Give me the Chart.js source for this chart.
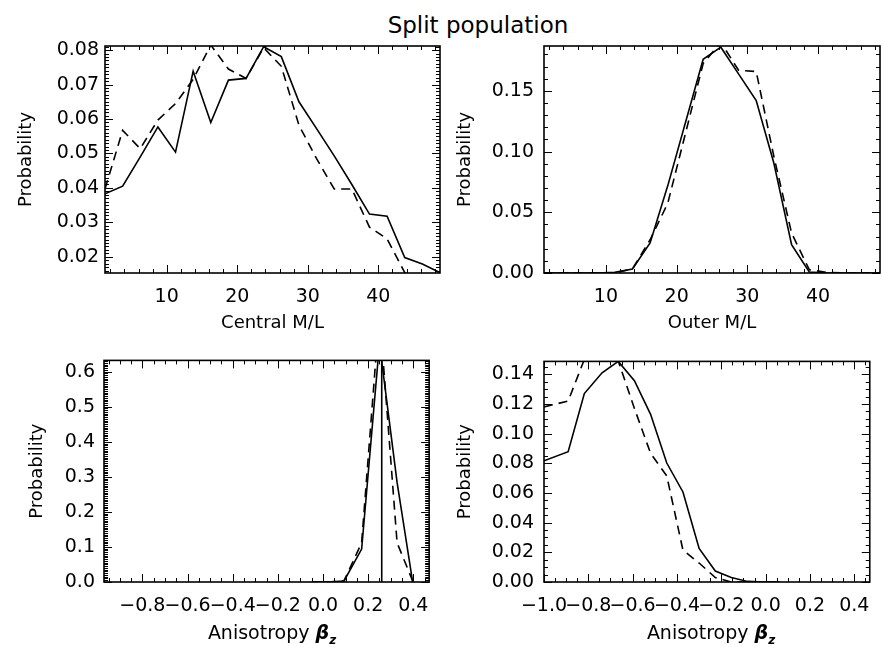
<!DOCTYPE html>
<html>
<head>
<meta charset="utf-8">
<title>Split population</title>
<script src="https://cdn.jsdelivr.net/npm/chart.js@4.4.0/dist/chart.umd.min.js"></script>
<style>
  html, body { margin: 0; padding: 0; background: #fff; }
  #page { position: relative; width: 882px; height: 647px; overflow: hidden; font-family: 'DejaVu Sans', sans-serif; color: #000; }
  .panel { position: absolute; }
  #title { position: absolute; left: 0; top: 12px; width: 956px; text-align: center; font-size: 23px; }
  .xlab { position: absolute; top: 621px; font-size: 19px; transform: translateX(-50%); white-space: nowrap; }
  .xlab b { font-style: italic; }
  .xlab sub { font-size: 12px; font-weight: bold; font-style: italic; }
</style>
</head>
<body>
<div id="page">
  <div id="title">Split population</div>
  <canvas class="panel" id="c1" width="441" height="340" style="left:0;top:0"></canvas>
  <canvas class="panel" id="c2" width="441" height="340" style="left:441px;top:0"></canvas>
  <canvas class="panel" id="c3" width="441" height="307" style="left:0;top:340px"></canvas>
  <canvas class="panel" id="c4" width="441" height="307" style="left:441px;top:340px"></canvas>
  <div class="xlab" style="left:272px">Anisotropy <b>β</b><sub>z</sub></div>
  <div class="xlab" style="left:711px">Anisotropy <b>β</b><sub>z</sub></div>
</div>
<script>
// M/L bin centres shared by both top panels
const mlX = [1.25, 3.75, 6.25, 8.75, 11.25, 13.75, 16.25, 18.75, 21.25, 23.75,
             26.25, 28.75, 31.25, 33.75, 36.25, 38.75, 41.25, 43.75, 46.25, 48.75];

// Central M/L (top left)
const centralSolid = [0.0383, 0.0405, 0.0490, 0.0577, 0.0504, 0.0739, 0.0590, 0.0713, 0.0718, 0.0810,
                      0.0781, 0.0650, 0.0572, 0.0493, 0.0410, 0.0324, 0.0318, 0.0198, 0.0179, 0.0154];
const centralDash  = [0.0397, 0.0567, 0.0514, 0.0597, 0.0645, 0.0715, 0.0815, 0.0745, 0.0718, 0.0807,
                      0.0753, 0.0582, 0.0485, 0.0397, 0.0397, 0.0286, 0.0252, 0.0154, 0.0120, 0.0100];

// Outer M/L (top right)
const outerSolid = [0, 0, 0, 0, 0.0005, 0.0033, 0.0247, 0.072, 0.124, 0.176,
                    0.186, 0.164, 0.142, 0.0904, 0.0233, 0.0008, 0, 0, 0, 0];
const outerDash  = [0, 0, 0, 0, 0, 0.0033, 0.0274, 0.0575, 0.115, 0.1726,
                    0.190, 0.167, 0.166, 0.0959, 0.0329, 0.0027, 0.0005, 0, 0, 0];

// Anisotropy, central fit (bottom left)
const betaCentralX     = [-0.05, 0.015, 0.093, 0.171, 0.25, 0.328, 0.397];
const betaCentralSolid = [0, 0, 0.003, 0.094, 0.68, 0.284, 0];
const betaCentralDash  = [0, 0, 0.003, 0.112, 0.77, 0.112, 0.003];
const betaMarker = 0.26;

// Anisotropy, outer fit (bottom right)
const betaOuterX     = [-1.0, -0.891, -0.818, -0.738, -0.665, -0.592, -0.519, -0.446, -0.373, -0.300, -0.227, -0.155, -0.082, -0.009, 0.064];
const betaOuterSolid = [0.0817, 0.0878, 0.127, 0.141, 0.1487, 0.1357, 0.113, 0.0802, 0.0607, 0.0226, 0.0074, 0.003, 0.0004, 0, 0];
const betaOuterDash  = [0.118, 0.122, 0.150, 0.156, 0.149, 0.117, 0.0867, 0.0715, 0.0215, 0.0128, 0.003, 0, 0, 0, 0];

const pts = (xs, ys) => xs.map((x, i) => ({ x: x, y: ys[i] }));
const fmt = (dec) => (v) => (Math.abs(v) < 1e-9 ? 0 : v).toFixed(dec).replace('-', '\u2212');
const TICK_FONT = { family: "'DejaVu Sans', sans-serif", size: 19 };
const TITLE_FONT = { family: "'DejaVu Sans', sans-serif", size: 18 };

// box with inward major + minor ticks on all four sides
const idlAxes = {
    id: 'idlAxes',
    afterDatasetsDraw(chart, args, opts) {
        const { ctx, chartArea: a } = chart;
        const xs = chart.scales.x, ys = chart.scales.y;
        const steps = (s, step) => {
            const out = [];
            for (let k = Math.ceil(s.min / step - 1e-6); k * step <= s.max + 1e-9; k++) out.push(k * step);
            return out;
        };
        ctx.save();
        ctx.strokeStyle = '#000';
        ctx.lineWidth = 1;
        ctx.beginPath();
        const tickX = (v, len) => {
            const p = Math.round(xs.getPixelForValue(v)) + 0.5;
            ctx.moveTo(p, a.bottom); ctx.lineTo(p, a.bottom - len);
            ctx.moveTo(p, a.top); ctx.lineTo(p, a.top + len);
        };
        const tickY = (v, len) => {
            const p = Math.round(ys.getPixelForValue(v)) + 0.5;
            ctx.moveTo(a.left, p); ctx.lineTo(a.left + len, p);
            ctx.moveTo(a.right, p); ctx.lineTo(a.right - len, p);
        };
        steps(xs, opts.xMinor).forEach(v => tickX(v, 4));
        xs.ticks.forEach(t => tickX(t.value, 8));
        steps(ys, opts.yMinor).forEach(v => tickY(v, 4));
        ys.ticks.forEach(t => tickY(t.value, 8));
        ctx.stroke();
        ctx.lineWidth = 1.6;
        ctx.strokeRect(a.left, a.top, a.right - a.left, a.bottom - a.top);
        ctx.restore();
    }
};

function makePanel(id, o) {
    return new Chart(document.getElementById(id), {
        type: 'line',
        data: {
            datasets: o.series.map(s => ({
                data: s.data,
                borderColor: '#000',
                borderWidth: 1.6,
                borderDash: s.dash ? [9, 6] : [],
                pointRadius: 0,
                tension: 0,
                fill: false,
                clip: 0
            }))
        },
        options: {
            responsive: false,
            animation: false,
            events: [],
            layout: { padding: { top: o.padTop, right: o.padRight, left: 0, bottom: 0 } },
            plugins: {
                legend: { display: false },
                tooltip: { enabled: false },
                idlAxes: { xMinor: o.x.minor, yMinor: o.y.minor }
            },
            scales: {
                x: {
                    type: 'linear',
                    min: o.x.min,
                    max: o.x.max,
                    afterFit: (s) => { s.height = o.xHeight; },
                    grid: { display: false, drawTicks: false },
                    border: { display: false },
                    ticks: {
                        stepSize: o.x.step, includeBounds: false, autoSkip: false, maxRotation: 0,
                        padding: 12.5, color: '#000', font: TICK_FONT, callback: fmt(o.x.dec)
                    },
                    title: {
                        display: !!o.x.title, text: o.x.title, color: '#000', font: TITLE_FONT,
                        padding: { top: 0, bottom: o.xTitlePad }
                    }
                },
                y: {
                    type: 'linear',
                    min: o.y.min,
                    max: o.y.max,
                    afterFit: (s) => { s.width = o.yWidth; },
                    grid: { display: false, drawTicks: false },
                    border: { display: false },
                    ticks: {
                        stepSize: o.y.step, includeBounds: false, autoSkip: false,
                        padding: o.yLabelPad, color: '#000', font: TICK_FONT, callback: fmt(o.y.dec)
                    },
                    title: {
                        display: true, text: 'Probability', color: '#000', font: TITLE_FONT,
                        padding: { top: o.yTitlePad, bottom: 0 }
                    }
                }
            }
        },
        plugins: [idlAxes]
    });
}

makePanel('c1', {
    series: [
        { data: pts(mlX, centralSolid) },
        { data: pts(mlX, centralDash), dash: true }
    ],
    padTop: 46, padRight: 1, yWidth: 105, xHeight: 67, xTitlePad: 6, yLabelPad: 6, yTitlePad: 16,
    x: { min: 1.25, max: 48.75, step: 10, minor: 2, dec: 0, title: 'Central M/L' },
    y: { min: 0.0153, max: 0.0812, step: 0.01, minor: 0.001, dec: 2 }
});

makePanel('c2', {
    series: [
        { data: pts(mlX, outerSolid) },
        { data: pts(mlX, outerDash), dash: true }
    ],
    padTop: 46, padRight: 2, yWidth: 103, xHeight: 67, xTitlePad: 6, yLabelPad: 10, yTitlePad: 14,
    x: { min: 1.25, max: 48.75, step: 10, minor: 2, dec: 0, title: 'Outer M/L' },
    y: { min: 0, max: 0.187, step: 0.05, minor: 0.01, dec: 2 }
});

const betaCentralYMax = 0.632;
makePanel('c3', {
    series: [
        { data: pts(betaCentralX, betaCentralSolid) },
        { data: pts(betaCentralX, betaCentralDash), dash: true },
        { data: [{ x: betaMarker, y: 0 }, { x: betaMarker, y: betaCentralYMax }] }
    ],
    padTop: 15, padRight: 1, yWidth: 104, xHeight: 65, xTitlePad: 3, yLabelPad: 9, yTitlePad: 27,
    x: { min: -0.97, max: 0.47, step: 0.2, minor: 0.05, dec: 1, title: '' },
    y: { min: 0, max: betaCentralYMax, step: 0.1, minor: 0.005, dec: 1 }
});

makePanel('c4', {
    series: [
        { data: pts(betaOuterX, betaOuterSolid) },
        { data: pts(betaOuterX, betaOuterDash), dash: true }
    ],
    padTop: 15, padRight: 3, yWidth: 103, xHeight: 65, xTitlePad: 3, yLabelPad: 10, yTitlePad: 14,
    x: { min: -1.0, max: 0.47, step: 0.2, minor: 0.05, dec: 1, title: '' },
    y: { min: 0, max: 0.1487, step: 0.02, minor: 0.005, dec: 2 }
});
</script>
</body>
</html>
